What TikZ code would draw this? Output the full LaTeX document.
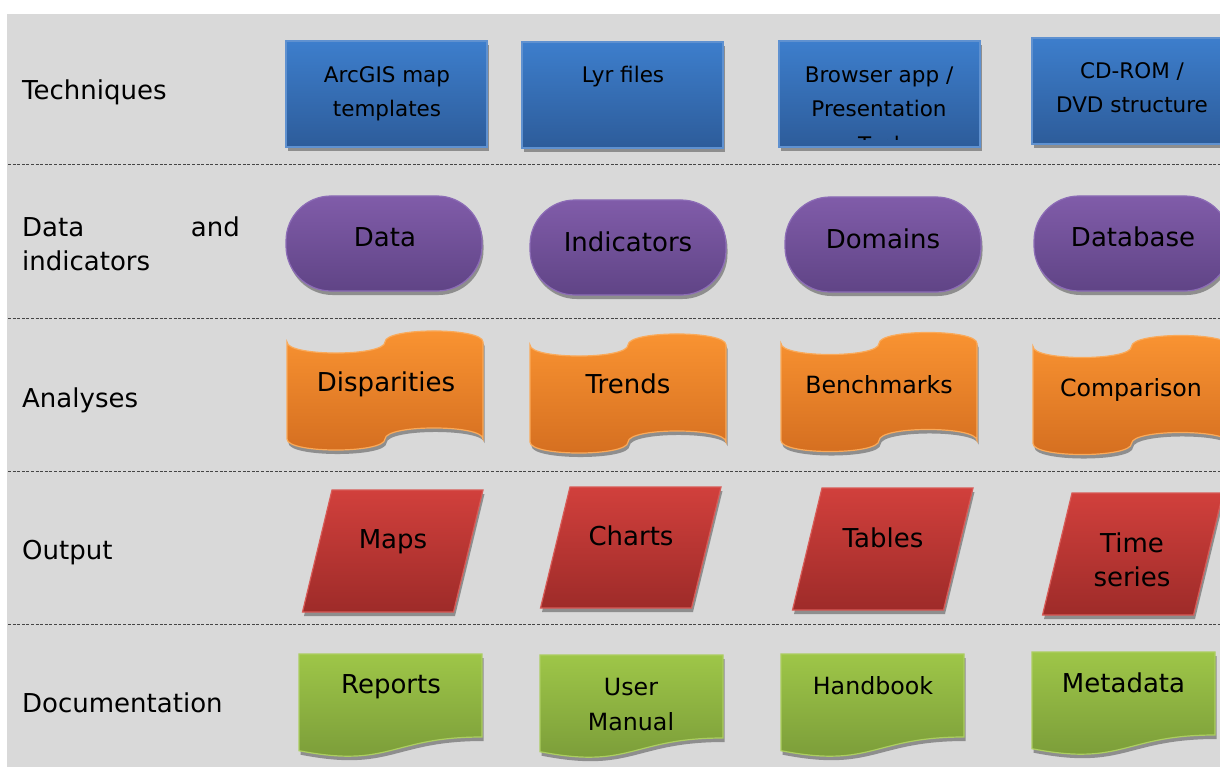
\documentclass[tikz,border=0pt]{standalone}
\usepackage{fontspec}
\setmainfont{DejaVu Sans}
\definecolor{bgc}{RGB}{217,217,217}
\definecolor{shadc}{RGB}{142,142,142}
\definecolor{dashc}{RGB}{70,70,70}
\definecolor{blueT}{RGB}{61,126,204}
\definecolor{blueB}{RGB}{45,92,154}
\definecolor{blueE}{RGB}{95,145,208}
\definecolor{purpT}{RGB}{128,92,169}
\definecolor{purpB}{RGB}{96,68,134}
\definecolor{purpE}{RGB}{140,108,182}
\definecolor{orT}{RGB}{250,148,50}
\definecolor{orB}{RGB}{212,110,32}
\definecolor{orE}{RGB}{250,170,90}
\definecolor{redT}{RGB}{209,64,60}
\definecolor{redB}{RGB}{158,43,41}
\definecolor{redE}{RGB}{216,90,86}
\definecolor{grT}{RGB}{158,198,72}
\definecolor{grB}{RGB}{120,153,56}
\definecolor{grE}{RGB}{172,206,96}
\tikzset{
  rowlbl/.style={anchor=base west, inner sep=0pt, font=\fontsize{26}{34}\selectfont},
  txt/.style={anchor=base, inner sep=0pt, font=\fontsize{26}{34}\selectfont},
  txtm/.style={anchor=base, inner sep=0pt, font=\fontsize{23.7}{34}\selectfont},
  txtb/.style={anchor=base, inner sep=0pt, font=\fontsize{21.5}{34}\selectfont},
  shad/.style={fill=shadc},
  blueshape/.style={top color=blueT, bottom color=blueB, draw=blueE, line width=1.2pt},
  purpshape/.style={top color=purpT, bottom color=purpB, draw=purpE, line width=1.2pt},
  orshape/.style={top color=orT, bottom color=orB, draw=orE, line width=1.2pt},
  redshape/.style={top color=redT, bottom color=redB, draw=redE, line width=1.2pt},
  grshape/.style={top color=grT, bottom color=grB, draw=grE, line width=1.2pt},
  sepline/.style={draw=dashc, line width=1pt, dash pattern=on 3pt off 1.6pt},
}
% blue rectangle: x y w h
\newcommand\rsBlue[4]{%
  \fill[shad] ({#1+1.5},{#2+4}) rectangle ++(#3,#4);
  \path[blueshape] (#1,#2) rectangle ++(#3,#4);}
% purple stadium: x y w h
\newcommand\rsPurp[4]{%
  \fill[shad, rounded corners=45] ({#1+1.5},{#2+4}) rectangle ++(#3,#4);
  \path[purpshape, rounded corners=45] (#1,#2) rectangle ++(#3,#4);}
% orange tape: x y0 w
\newcommand\rsTapePath[1]{(0,0) .. controls (0,14.7) and ({#1/2},14.7) .. ({#1/2},0)
   .. controls ({#1/2},-14.7) and (#1,-14.7) .. (#1,0) -- (#1,97)
   .. controls (#1,82.3) and ({#1/2},82.3) .. ({#1/2},97)
   .. controls ({#1/2},111.7) and (0,111.7) .. (0,97) -- cycle}
\newcommand\rsTape[3]{%
  \begin{scope}[shift={({#1+1.5},{#2+4})}]\fill[shad] \rsTapePath{#3};\end{scope}
  \begin{scope}[shift={(#1,#2)}]\path[orshape] \rsTapePath{#3};\end{scope}}
% red parallelogram: xTL yT yB
\newcommand\rsParaPath[3]{(#1,#2) -- ({#1+151},#2) -- ({#1+121.5},#3) -- ({#1-29.5},#3) -- cycle}
\newcommand\rsPara[3]{%
  \begin{scope}[shift={(1.5,4)}]\fill[shad] \rsParaPath{#1}{#2}{#3};\end{scope}
  \path[redshape] \rsParaPath{#1}{#2}{#3};}
% green document: x y
\newcommand\rsDocPath{(0,0) -- (183,0) -- (183,83) .. controls (91.5,83) and (91.5,114.6) .. (0,96.7) -- cycle}
\newcommand\rsDoc[2]{%
  \begin{scope}[shift={({#1+1.5},{#2+4})}]\fill[shad] \rsDocPath;\end{scope}
  \begin{scope}[shift={(#1,#2)}]\path[grshape] \rsDocPath;\end{scope}}

\begin{document}
\begin{tikzpicture}[x=1pt,y=-1pt]
\clip (0,0) rectangle (1220,767);
\fill[white] (0,0) rectangle (1220,767);
\fill[bgc] (7,14) rectangle (1220,767);

% separators
\foreach \yy in {165,318,471,624} {\path[sepline] (8,\yy) -- (1220,\yy);}

% row labels
\node[rowlbl] (lTech) at (22,100) {Techniques};
\node[rowlbl] (lData) at (22,237) {Data};
\node[rowlbl, anchor=base east] (lAnd) at (240,237) {and};
\node[rowlbl] (lInd) at (22,271) {indicators};
\node[rowlbl] (lAna) at (22,407) {Analyses};
\node[rowlbl] (lOut) at (22,559) {Output};
\node[rowlbl] (lDoc) at (22,712) {Documentation};

% Techniques
\rsBlue{286}{41}{201}{106}
\rsBlue{522}{42}{201}{106}
\rsBlue{779}{41}{201}{106}
\rsBlue{1032}{38}{200}{106}
\node[txtb] (t1a) at (387,83) {ArcGIS map};
\node[txtb] (t1b) at (387,117) {templates};
\node[txtb] (t2) at (623,83) {Lyr files};
\node[txtb] (t3a) at (879,83) {Browser app /};
\node[txtb] (t3b) at (879,117) {Presentation};
\begin{scope}
\clip (779,41) rectangle (980,139.5);
\node[txtb] (t3c) at (879,152.5) {Tool};
\end{scope}
\node[txtb] (t4a) at (1132,79) {CD-ROM /};
\node[txtb] (t4b) at (1132,113) {DVD structure};

% Data and indicators
\rsPurp{286}{196}{196}{95}
\rsPurp{530}{200}{196}{95}
\rsPurp{785}{197}{196}{95}
\rsPurp{1034}{196}{196}{95}
\node[txt] (d1) at (385,247) {Data};
\node[txt] (d2) at (628,252) {Indicators};
\node[txt] (d3) at (883,249) {Domains};
\node[txt] (d4) at (1133,247) {Database};

% Analyses
\rsTape{287}{342}{196}
\rsTape{530}{345}{196}
\rsTape{781}{343.5}{196}
\rsTape{1033}{346.5}{197}
\node[txt] (a1) at (386,391) {Disparities};
\node[txt] (a2) at (628,393) {Trends};
\node[txtm] (a3) at (879,393) {Benchmarks};
\node[txtm] (a4) at (1131,396) {Comparison};

% Output
\rsPara{332}{490}{612}
\rsPara{570}{487}{608}
\rsPara{822}{488}{610}
\rsPara{1072}{493}{615}
\node[txt] (o1) at (393,548) {Maps};
\node[txt] (o2) at (631,545) {Charts};
\node[txt] (o3) at (883,547) {Tables};
\node[txt] (o4a) at (1132,552) {Time};
\node[txt] (o4b) at (1132,586) {series};

% Documentation
\rsDoc{299}{654}
\rsDoc{540}{655}
\rsDoc{781}{654}
\rsDoc{1032}{652}
\node[txt] (g1) at (391,693) {Reports};
\node[txtm] (g2a) at (631,695) {User};
\node[txtm] (g2b) at (631,730) {Manual};
\node[txtm] (g3) at (873,694) {Handbook};
\node[txt] (g4) at (1123.5,692) {Metadata};
\end{tikzpicture}
\end{document}
